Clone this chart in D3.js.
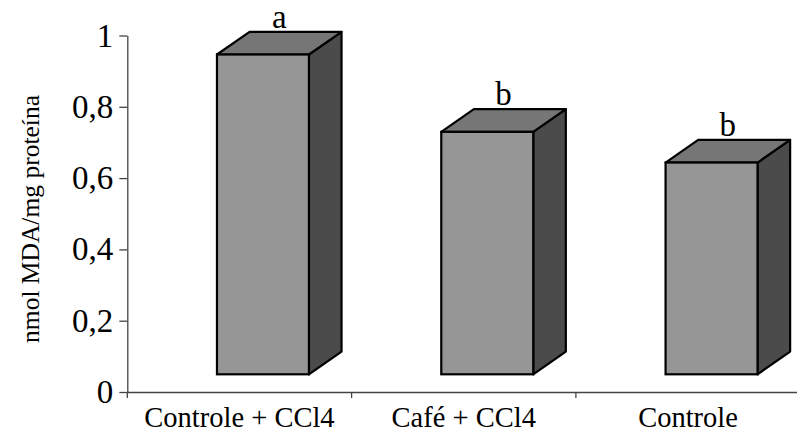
<!DOCTYPE html>
<html>
<head>
<meta charset="utf-8">
<script src="https://cdn.jsdelivr.net/npm/d3@7"></script>
<style>
  html, body { margin: 0; padding: 0; background: #fff; }
  svg { display: block; }
  text { font-family: "Liberation Serif", "Times New Roman", serif; fill: #000; }
</style>
</head>
<body>
<svg id="chart" width="797" height="432"></svg>
<script>
// ---- data ----
const categories = ["Controle + CCl4", "Café + CCl4", "Controle"];
const values = [0.897, 0.680, 0.594];
const letters = ["a", "b", "b"];
const yTicks = [0, 0.2, 0.4, 0.6, 0.8, 1];
const yTitle = "nmol MDA/mg proteína";

// ---- layout ----
const W = 797, H = 432;
const x0 = 127.3, x1 = 800.2, y0 = 392, y1 = 35.5;
const frontDX = 23.5, frontDY = -17.7;   // bars set back from axis plane
const depthDX = 32.6, depthDY = -22.7;   // 3D depth of bars
const barFrac = 0.41;

const svg = d3.select("#chart");
const x = d3.scaleBand().domain(categories).range([x0, x1]).padding(0);
const y = d3.scaleLinear().domain([0, 1]).range([y0, y1]);

const loc = d3.formatLocale({decimal: ",", thousands: ".", grouping: [3], currency: ["", ""]});
const fmt = loc.format("~g");

// bars
const bw = x.bandwidth() * barFrac;
const g = svg.append("g");
categories.forEach((c, i) => {
  const v = values[i];
  const fx = x(c) + (x.bandwidth() - bw) / 2 + frontDX;
  const yt = y(v) + frontDY;
  const yb = y(0) + frontDY;
  const stroke = "#000", sw = 2.2;
  g.append("polygon")
    .attr("points", [[fx + bw, yt], [fx + bw + depthDX, yt + depthDY], [fx + bw + depthDX, yb + depthDY], [fx + bw, yb]].map(p => p.join(",")).join(" "))
    .attr("fill", "#4b4b4b").attr("stroke", stroke).attr("stroke-width", sw).attr("stroke-linejoin", "round");
  g.append("polygon")
    .attr("points", [[fx, yt], [fx + depthDX, yt + depthDY], [fx + bw + depthDX, yt + depthDY], [fx + bw, yt]].map(p => p.join(",")).join(" "))
    .attr("fill", "#767676").attr("stroke", stroke).attr("stroke-width", sw).attr("stroke-linejoin", "round");
  g.append("rect")
    .attr("x", fx).attr("y", yt).attr("width", bw).attr("height", yb - yt)
    .attr("fill", "#969696").attr("stroke", stroke).attr("stroke-width", sw);
  svg.append("text")
    .attr("x", fx + bw / 2 + depthDX / 2)
    .attr("y", yt + depthDY - 4)
    .attr("text-anchor", "middle")
    .attr("font-size", 33)
    .text(letters[i]);
});

// y axis
const yAxis = d3.axisLeft(y).tickValues(yTicks).tickFormat(fmt).tickSize(8).tickSizeOuter(0).tickPadding(6);
const ya = svg.append("g").attr("transform", `translate(${x0},0)`).call(yAxis);
ya.select(".domain").attr("stroke", "#444").attr("stroke-width", 1.3);
ya.selectAll(".tick line").attr("stroke", "#444").attr("stroke-width", 1.3);
ya.selectAll(".tick text").attr("font-size", 33).attr("font-family", "Liberation Serif, serif").attr("fill", "#000");
svg.append("line").attr("x1", x0).attr("x2", x0).attr("y1", y0).attr("y2", y0 + 6)
  .attr("stroke", "#444").attr("stroke-width", 1.3);

// x axis
const xAxis = d3.axisBottom(x).tickSize(0).tickSizeOuter(0).tickPadding(15);
const xa = svg.append("g").attr("transform", `translate(0,${y0})`).call(xAxis);
xa.select(".domain").attr("stroke", "#444").attr("stroke-width", 1.3);
xa.selectAll(".tick text").attr("font-size", 28.5).attr("font-family", "Liberation Serif, serif").attr("fill", "#000");
svg.append("g").selectAll("line").data(categories.slice(0, -1)).join("line")
  .attr("x1", d => x(d) + x.bandwidth()).attr("x2", d => x(d) + x.bandwidth())
  .attr("y1", y0).attr("y2", y0 + 6)
  .attr("stroke", "#444").attr("stroke-width", 1.3);

// y title
svg.append("text")
  .attr("transform", `translate(39,219) rotate(-90)`)
  .attr("text-anchor", "middle")
  .attr("font-size", 25.5)
  .text(yTitle);
</script>
</body>
</html>
